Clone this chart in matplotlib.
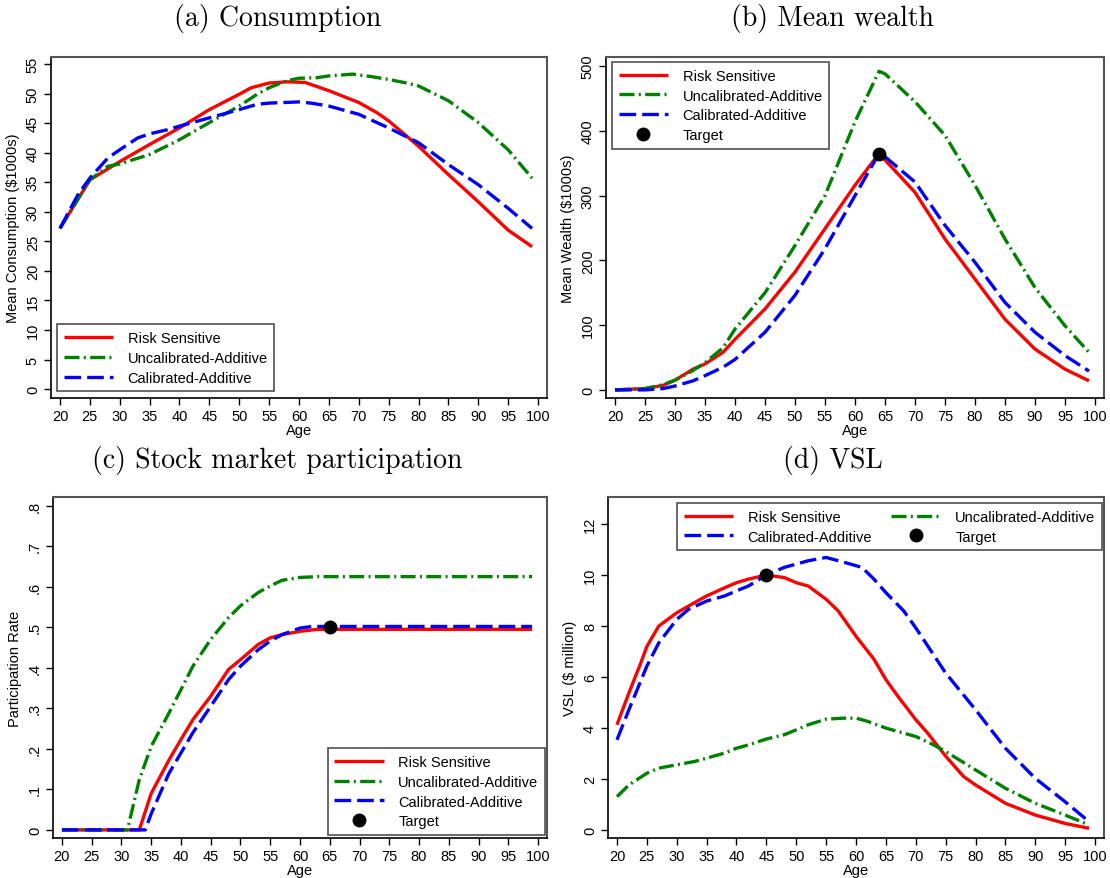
import matplotlib
matplotlib.use("Agg")
import matplotlib.pyplot as plt

plt.rcParams["font.family"] = ["Liberation Sans", "DejaVu Sans"]
plt.rcParams["font.size"] = 10

# ---- (a) Consumption ----
cons_rs_age = [20, 25, 30, 35, 40, 45, 50, 52, 55, 58, 61, 63, 65, 68, 70, 73, 75, 80, 85, 90, 95, 99]
cons_rs = [27.2, 35.4, 38.5, 41.4, 44.2, 47.3, 49.9, 51.0, 51.8, 52.0, 51.9, 51.2, 50.5, 49.3, 48.5, 46.8,
           45.4, 41.1, 36.3, 31.7, 26.9, 24.1]
cons_un_age = [20, 25, 28, 30, 35, 40, 45, 50, 53, 55, 58, 60, 63, 65, 69, 72, 75, 78, 80, 85, 90, 95, 99]
cons_un = [27.2, 35.4, 37.7, 38.1, 39.7, 42.2, 45.1, 47.9, 49.9, 51.0, 52.2, 52.6, 52.7, 53.0, 53.3, 52.9,
           52.4, 51.8, 51.3, 48.8, 45.1, 40.5, 35.7]
cons_ca_age = [20, 23, 25, 28, 30, 33, 35, 38, 40, 45, 50, 53, 55, 60, 62, 65, 70, 75, 80, 85, 90, 95, 99]
cons_ca = [27.2, 32.9, 35.7, 39.1, 40.5, 42.5, 43.2, 43.9, 44.5, 45.9, 47.3, 48.2, 48.4, 48.6, 48.4, 47.9,
           46.5, 44.2, 41.7, 38.0, 34.6, 30.6, 27.2]

# ---- (b) Mean wealth ----
wealth_age = [20, 25, 28, 30, 33, 35, 38, 40, 45, 50, 55, 60, 64, 65, 70, 75, 80, 85, 90, 95, 99]
wealth_rs = [0, 2, 7, 15, 32, 40, 58, 78, 125, 182, 249, 316, 365, 355, 305, 233, 171, 109, 63, 32, 14]
wealth_un = [0, 2, 8, 15, 30, 42, 65, 94, 150, 223, 300, 414, 492, 488, 445, 393, 316, 233, 158, 99, 58]
wealth_ca = [0, 0, 2, 6, 14, 22, 35, 47, 89, 146, 218, 300, 365, 360, 321, 254, 197, 135, 89, 53, 29]
wealth_target = (64, 365)

# ---- (c) Stock market participation ----
part_rs_age = [20, 33, 35, 38, 40, 42, 45, 48, 50, 53, 55, 57, 60, 63, 99]
part_rs = [0, 0, 0.09, 0.173, 0.223, 0.272, 0.33, 0.396, 0.42, 0.458, 0.474, 0.482, 0.49, 0.495, 0.495]
part_un_age = [20, 31, 33, 35, 38, 40, 42, 45, 48, 50, 53, 55, 57, 60, 63, 99]
part_un = [0, 0, 0.124, 0.206, 0.289, 0.346, 0.404, 0.47, 0.524, 0.553, 0.586, 0.602, 0.616, 0.623, 0.625, 0.625]
part_ca_age = [20, 34, 35, 37, 38, 40, 42, 45, 48, 50, 53, 55, 57, 60, 62, 99]
part_ca = [0, 0, 0.04, 0.107, 0.14, 0.19, 0.24, 0.305, 0.371, 0.404, 0.445, 0.466, 0.482, 0.498, 0.502, 0.502]
part_target = (65, 0.5)

# ---- (d) VSL ----
vsl_rs_age = [20, 22, 24, 25, 27, 30, 33, 35, 38, 40, 42, 45, 48, 50, 52, 55, 57, 60, 62, 63, 65, 67, 70,
              72, 75, 78, 80, 85, 90, 95, 99]
vsl_rs = [4.13, 5.38, 6.56, 7.2, 8.0, 8.52, 8.92, 9.18, 9.5, 9.7, 9.84, 10.0, 9.9, 9.7, 9.57, 9.05, 8.6,
          7.6, 7.0, 6.7, 5.9, 5.25, 4.33, 3.8, 2.9, 2.1, 1.77, 1.05, 0.59, 0.26, 0.07]
vsl_ca_age = [20, 22, 25, 27, 30, 32, 35, 38, 40, 42, 45, 48, 50, 52, 55, 58, 61, 63, 65, 68, 70, 75, 80,
              85, 90, 95, 99]
vsl_ca = [3.54, 4.72, 6.43, 7.34, 8.26, 8.66, 8.98, 9.18, 9.38, 9.57, 10.0, 10.3, 10.43, 10.56, 10.69,
          10.5, 10.3, 9.84, 9.31, 8.59, 7.93, 6.16, 4.72, 3.21, 2.03, 1.11, 0.33]
vsl_un_age = [20, 22, 25, 27, 30, 33, 35, 38, 40, 42, 45, 48, 50, 52, 55, 58, 60, 62, 65, 68, 70, 73, 75,
              80, 85, 90, 95, 99]
vsl_un = [1.31, 1.77, 2.23, 2.43, 2.56, 2.69, 2.82, 3.02, 3.21, 3.34, 3.57, 3.74, 3.93, 4.13, 4.35, 4.39,
          4.39, 4.26, 4.0, 3.8, 3.67, 3.34, 3.08, 2.36, 1.64, 1.05, 0.59, 0.2]
vsl_target = (45, 10)

labels = ["Risk Sensitive", "Uncalibrated-Additive", "Calibrated-Additive", "Target"]
titles = ["(a) Consumption", "(b) Mean wealth", "(c) Stock market participation", "(d) VSL"]

RED, GREEN, BLUE = "#ff0000", "#008000", "#0000ff"
LW = 2.4

W, H = 1110, 879
fig = plt.figure(figsize=(W / 100, H / 100), dpi=100)


def make_axes(left, right, top, bottom):
    return fig.add_axes([left / W, 1 - bottom / H, (right - left) / W, (bottom - top) / H])


def style_axes(ax, yticks, yticklabels, ylim, ylabel):
    ax.set_xlim(18.5, 101.5)
    ax.set_xticks(range(20, 101, 5))
    ax.set_ylim(*ylim)
    ax.set_yticks(yticks)
    ax.set_yticklabels(yticklabels, rotation=90, va="center")
    ax.tick_params(direction="out", length=5, width=1, labelsize=10.5, pad=3, colors="black")
    ax.set_xlabel("Age", fontsize=10.5, labelpad=0)
    ax.set_ylabel(ylabel, fontsize=10.5, labelpad=4)
    for side in ["left", "bottom"]:
        ax.spines[side].set_color("black")
        ax.spines[side].set_linewidth(1.2)
    for side in ["top", "right"]:
        ax.spines[side].set_color("#555555")
        ax.spines[side].set_linewidth(1.5)


def draw_lines(ax, rs, un, ca):
    h1, = ax.plot(rs[0], rs[1], color=RED, lw=LW, solid_capstyle="butt")
    h2, = ax.plot(un[0], un[1], color=GREEN, lw=LW, dashes=(4.5, 1.3, 0.6, 1.3))
    h3, = ax.plot(ca[0], ca[1], color=BLUE, lw=LW, dashes=(5, 1.8))
    return [h1, h2, h3]


leg_kw = dict(frameon=True, fancybox=False, edgecolor="#222222", fontsize=10.5,
              handlelength=3.4, handletextpad=1.0, borderaxespad=0, labelspacing=0.4,
              borderpad=0.45)

# (a)
ax = make_axes(51, 547, 58, 399)
hs = draw_lines(ax, (cons_rs_age, cons_rs), (cons_un_age, cons_un), (cons_ca_age, cons_ca))
style_axes(ax, range(0, 56, 5), [str(v) for v in range(0, 56, 5)], (-1.5, 56.2),
           "Mean Consumption (\\$1000s)")
leg = ax.legend(hs, labels[:3], loc="lower left", bbox_to_anchor=(0.012, 0.02), **leg_kw)
leg.get_frame().set_linewidth(1.2)

# (b)
ax = make_axes(606, 1104, 58, 399)
hs = draw_lines(ax, (wealth_age, wealth_rs), (wealth_age, wealth_un), (wealth_age, wealth_ca))
ht, = ax.plot([wealth_target[0]], [wealth_target[1]], "o", color="black", ms=9, zorder=5)
style_axes(ax, range(0, 501, 100), [str(v) for v in range(0, 501, 100)], (-12.5, 514),
           "Mean Wealth (\\$1000s)")
leg = ax.legend(hs + [ht], labels, loc="upper left", bbox_to_anchor=(0.012, 0.985), **leg_kw)
leg.get_frame().set_linewidth(1.2)

# (c)
ax = make_axes(53, 547, 498, 839)
hs = draw_lines(ax, (part_rs_age, part_rs), (part_un_age, part_un), (part_ca_age, part_ca))
ht, = ax.plot([part_target[0]], [part_target[1]], "o", color="black", ms=9, zorder=5)
pt = [i / 10 for i in range(9)]
style_axes(ax, pt, ["0"] + ["." + str(i) for i in range(1, 9)], (-0.02, 0.8215), "Participation Rate")
leg = ax.legend(hs + [ht], labels, loc="lower right", bbox_to_anchor=(0.996, 0.009), **leg_kw)
leg.get_frame().set_linewidth(1.2)

# (d)
ax = make_axes(608, 1104, 498, 839)
hs = draw_lines(ax, (vsl_rs_age, vsl_rs), (vsl_un_age, vsl_un), (vsl_ca_age, vsl_ca))
ht, = ax.plot([vsl_target[0]], [vsl_target[1]], "o", color="black", ms=9, zorder=5)
style_axes(ax, range(0, 13, 2), [str(v) for v in range(0, 13, 2)], (-0.31, 13.06), "VSL (\\$ million)")
leg = ax.legend([hs[0], hs[2], hs[1], ht], [labels[0], labels[2], labels[1], labels[3]], ncol=2,
                loc="upper right", bbox_to_anchor=(0.996, 0.982), columnspacing=1.3, **leg_kw)
leg.get_frame().set_linewidth(1.2)

# panel titles
for (x, y), t in zip([(0.25, 0.979), (0.75, 0.979), (0.25, 0.476), (0.75, 0.476)], titles):
    fig.text(x, y, t, ha="center", va="center", fontsize=20, family="cmr10")

fig.savefig("out.png", dpi=100)
